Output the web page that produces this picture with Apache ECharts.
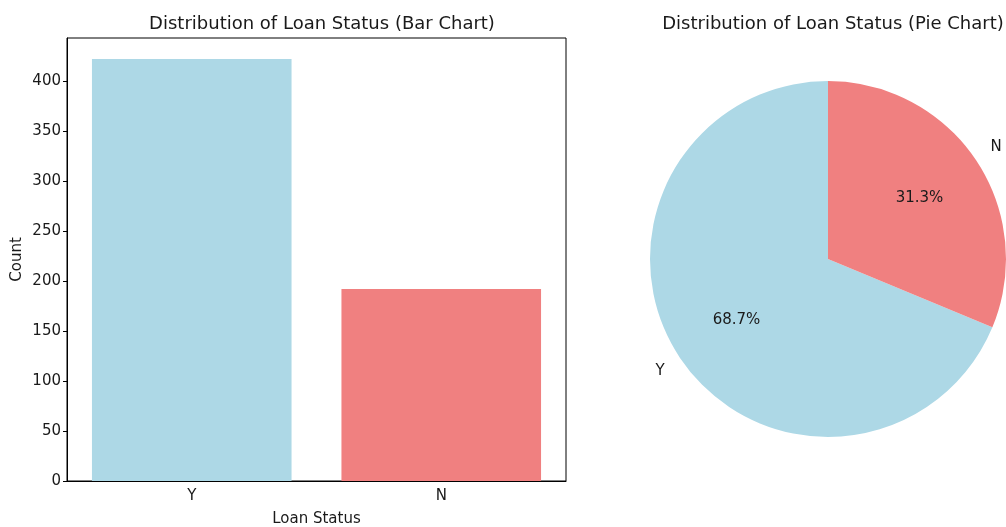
<!DOCTYPE html>
<html>
<head>
<meta charset="utf-8">
<title>Distribution of Loan Status</title>
<script src="https://cdn.jsdelivr.net/npm/echarts@6/dist/echarts.min.js"></script>
<style>
  html, body { margin: 0; padding: 0; background: #fff; }
  #chart { width: 1006px; height: 527px; }
</style>
</head>
<body>
<div id="chart"></div>
<script>
// loan status counts
var categories = ['Y', 'N'];
var counts = [422, 192];
var barColors = ['#add8e6', '#f08080'];
var yTicks = [0, 50, 100, 150, 200, 250, 300, 350, 400];

var FONT = 'DejaVu Sans';
var INK = '#1a1a1a';

var barData = [];
var pieData = [];
for (var i = 0; i < categories.length; i++) {
    barData.push({ value: counts[i], itemStyle: { color: barColors[i] } });
    pieData.push({ name: categories[i], value: counts[i], itemStyle: { color: barColors[i] } });
}

// transparent copy of the pie, only used to place labels
function ghost(data) {
    return data.map(function (d) {
        return { name: d.name, value: d.value, itemStyle: { color: 'rgba(0,0,0,0)' } };
    });
}

var pieCenter = [828, 259];

var option = {
    animation: false,
    textStyle: { fontFamily: FONT, color: INK },
    title: [
        {
            text: 'Distribution of Loan Status (Bar Chart)',
            left: 317, top: 10, textAlign: 'center',
            textStyle: { fontFamily: FONT, fontSize: 18, fontWeight: 'normal', color: INK }
        },
        {
            text: 'Distribution of Loan Status (Pie Chart)',
            left: 828, top: 10, textAlign: 'center',
            textStyle: { fontFamily: FONT, fontSize: 18, fontWeight: 'normal', color: INK }
        }
    ],
    grid: {
        left: 67, right: 440, top: 38, bottom: 46,
        outerBoundsMode: 'none',
        containLabel: false,
        show: true, borderColor: '#000', borderWidth: 1, backgroundColor: 'transparent'
    },
    xAxis: {
        type: 'category',
        data: categories,
        name: 'Loan Status',
        nameLocation: 'middle',
        nameGap: 31,
        nameTextStyle: { fontFamily: FONT, fontSize: 15, color: INK },
        axisLine: { lineStyle: { color: '#000', width: 1 } },
        axisTick: { alignWithLabel: true, length: 4, lineStyle: { color: '#000' } },
        axisLabel: { fontFamily: FONT, fontSize: 15, color: INK, margin: 8 }
    },
    yAxis: {
        type: 'value',
        min: 0,
        max: 443,
        name: 'Count',
        nameLocation: 'middle',
        nameRotate: 90,
        nameGap: 42,
        nameTextStyle: { fontFamily: FONT, fontSize: 15, color: INK },
        splitLine: { show: false },
        axisLine: { show: true, lineStyle: { color: '#000', width: 1 } },
        axisTick: { show: true, length: 4, customValues: yTicks, lineStyle: { color: '#000' } },
        axisLabel: { fontFamily: FONT, fontSize: 15, color: INK, margin: 6, customValues: yTicks }
    },
    series: [
        {
            type: 'bar',
            data: barData,
            barWidth: '80%'
        },
        {
            type: 'pie',
            center: pieCenter,
            radius: [0, 178],
            startAngle: 90,
            clockwise: false,
            data: pieData,
            emphasis: { disabled: true },
            label: { show: false },
            labelLine: { show: false }
        },
        {
            // percentages at 0.6 r
            type: 'pie',
            center: pieCenter,
            radius: [36, 178],
            startAngle: 90,
            clockwise: false,
            silent: true,
            data: ghost(pieData),
            label: {
                show: true,
                position: 'inside',
                formatter: function (p) { return p.percent.toFixed(1) + '%'; },
                fontFamily: FONT, fontSize: 15, color: INK
            },
            labelLine: { show: false }
        },
        {
            // category names just outside the pie
            type: 'pie',
            center: pieCenter,
            radius: [181, 217],
            startAngle: 90,
            clockwise: false,
            silent: true,
            data: ghost(pieData),
            label: {
                show: true,
                position: 'inside',
                formatter: '{b}',
                fontFamily: FONT, fontSize: 15, color: INK
            },
            labelLine: { show: false }
        }
    ]
};

var chart = echarts.init(document.getElementById('chart'));
chart.setOption(option);
</script>
</body>
</html>
